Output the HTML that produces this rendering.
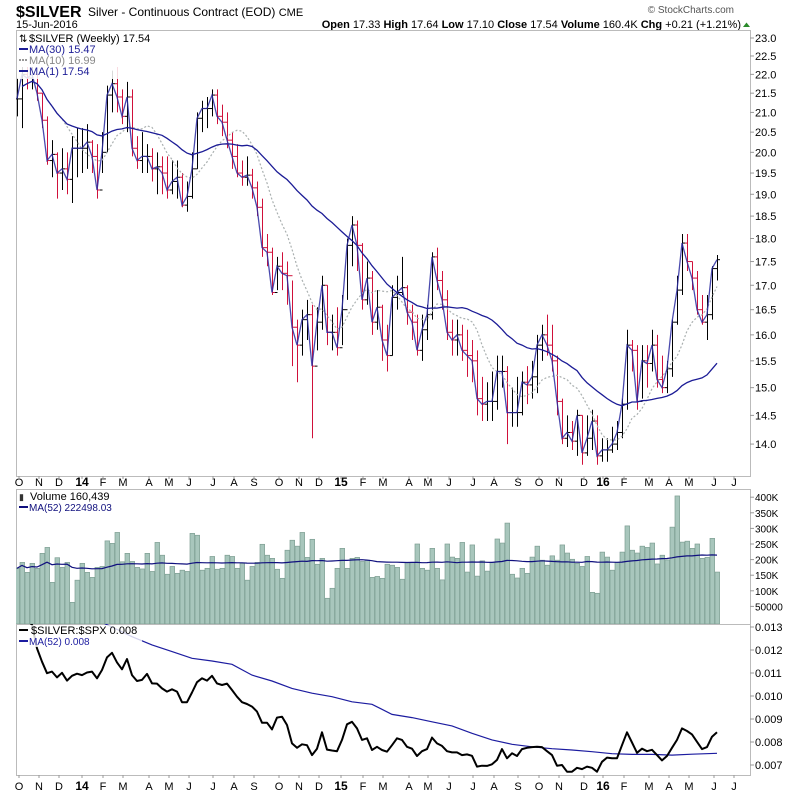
<!DOCTYPE html>
<html><head><meta charset="utf-8"><style>
html,body{margin:0;padding:0;background:#fff;}
svg{display:block;font-family:"Liberation Sans",Arial,sans-serif;}
</style></head><body>
<svg id="chart" width="800" height="795" viewBox="0 0 800 795" xmlns="http://www.w3.org/2000/svg">
<rect x="0" y="0" width="800" height="795" fill="#fff"/>
<text x="16" y="17" font-size="16" font-weight="bold">$SILVER</text>
<text x="88" y="16" font-size="12">Silver - Continuous Contract (EOD) <tspan font-size="11">CME</tspan></text>
<text x="16" y="28" font-size="11">15-Jun-2016</text>
<text x="734" y="13" font-size="10" fill="#555" text-anchor="end">© StockCharts.com</text>
<text x="741" y="28" font-size="11" text-anchor="end"><tspan font-weight="bold">Open</tspan> 17.33 <tspan font-weight="bold">High</tspan> 17.64 <tspan font-weight="bold">Low</tspan> 17.10 <tspan font-weight="bold">Close</tspan> 17.54 <tspan font-weight="bold">Volume</tspan> 160.4K <tspan font-weight="bold">Chg</tspan> +0.21 (+1.21%)</text>
<path d="M743 27 L746.5 22.5 L750 27 Z" fill="#2a8a2a"/>
<g id="price-panel"></g>
<g id="volume-panel"></g>
<g id="ratio-panel"></g>
</svg>
<script>
const closes=[21.35,22.0,21.9,22.0,21.5,20.8,19.8,19.95,19.5,19.6,19.35,20.1,20.1,20.1,20.25,19.9,19.1,20.0,21.45,21.75,21.4,20.9,21.4,20.1,19.8,19.9,19.9,19.6,19.65,19.5,19.1,19.3,19.4,18.75,18.95,19.6,20.85,21.1,21.1,21.45,20.9,20.75,20.3,19.9,19.5,19.4,19.45,19.15,18.7,17.8,17.7,16.85,17.4,17.25,17.2,16.15,15.8,16.3,16.4,15.4,16.25,17.0,16.05,16.05,15.75,16.5,17.85,18.3,17.85,16.7,17.15,16.25,16.55,15.9,15.6,16.75,16.85,16.95,16.45,16.25,15.7,16.1,16.4,17.6,17.1,16.7,16.05,15.9,16.0,15.7,15.6,15.5,14.8,14.7,14.75,14.75,15.3,15.3,14.55,14.55,14.55,15.1,15.05,15.2,15.8,16.0,15.8,15.5,14.75,14.1,14.2,14.05,14.5,13.85,14.1,14.4,13.8,13.9,13.9,14.0,14.2,14.7,15.8,15.7,14.75,15.5,15.45,15.8,15.15,15.0,15.35,16.25,16.9,17.9,17.5,17.15,16.5,16.25,16.4,17.35,17.54];
const highs=[21.9,22.2,22.2,22.2,22.0,21.5,20.9,20.3,20.0,20.1,20.0,20.4,20.6,20.6,20.7,20.3,20.2,20.5,21.7,22.1,22.2,21.6,21.8,21.6,20.4,20.5,20.2,20.1,20.0,19.9,19.9,19.8,19.8,19.5,19.3,20.0,21.0,21.3,21.4,21.6,21.6,21.2,21.0,20.5,20.2,19.8,19.9,19.6,19.3,18.9,18.1,17.8,17.6,17.7,17.5,17.1,16.3,16.5,16.7,16.6,16.55,17.2,17.0,16.4,16.55,16.8,18.0,18.5,18.4,17.9,17.5,17.3,16.9,16.6,16.2,17.0,17.2,17.6,17.0,16.6,16.4,16.4,16.6,17.7,17.8,17.3,16.9,16.3,16.3,16.2,16.1,15.9,15.7,15.2,15.1,15.3,15.6,15.6,15.4,15.0,15.2,15.3,15.4,15.5,16.0,16.2,16.4,16.2,15.6,14.8,14.5,14.4,14.6,14.5,14.5,14.6,14.5,14.1,14.1,14.3,14.4,14.8,16.1,15.9,15.8,15.8,15.8,16.1,16.0,15.6,15.5,16.3,17.2,18.1,18.1,17.5,17.3,16.8,16.8,17.4,17.64];
const lows=[20.9,20.6,21.6,21.6,21.3,20.6,19.7,19.4,18.9,19.1,19.0,18.8,19.4,19.5,19.6,19.5,18.9,19.5,20.0,21.0,21.0,20.7,20.5,19.9,19.6,19.5,19.5,19.3,19.0,19.0,18.9,19.0,18.9,18.7,18.6,18.9,19.6,20.5,20.6,20.9,20.7,20.4,20.1,19.6,19.4,19.2,19.2,18.9,18.5,17.6,17.4,16.8,16.9,16.9,16.6,15.4,15.1,15.6,15.9,14.1,15.7,16.1,15.8,15.7,15.6,15.8,16.7,17.4,17.3,16.5,16.6,16.0,16.1,15.5,15.3,15.6,16.5,16.8,16.2,15.9,15.6,15.5,15.9,16.3,16.9,16.5,15.9,15.6,15.6,15.5,15.2,15.1,14.5,14.4,14.4,14.4,14.6,15.0,14.0,14.3,14.3,14.5,14.7,14.8,14.9,15.5,15.6,15.3,14.5,14.0,13.95,13.9,13.8,13.65,13.8,13.9,13.65,13.7,13.7,13.85,13.9,14.1,14.6,15.3,14.6,14.8,15.0,15.3,15.0,14.9,14.9,15.2,16.2,16.8,17.3,16.9,16.4,16.2,15.9,16.3,17.1];
const volumesK=[172,191,159,188,172,220,239,127,206,175,191,63,134,188,159,143,175,178,260,252,287,193,220,194,175,170,220,162,255,214,153,178,156,166,162,284,278,166,172,210,169,172,214,210,172,188,134,178,191,249,214,204,169,140,230,262,243,287,207,265,185,204,76,108,172,236,172,204,207,194,198,143,146,140,185,182,175,137,191,191,250,172,166,236,172,135,250,208,204,255,160,247,147,196,163,191,266,253,317,153,141,172,156,208,243,198,182,212,198,247,221,201,188,178,210,95,92,224,208,166,191,224,308,230,221,243,239,253,186,214,199,304,404,256,259,236,250,204,207,268,160];
const ratio=[0.0140,0.0136,0.0133,0.0131,0.01207,0.01149,0.01099,0.01106,0.01081,0.01101,0.01067,0.01088,0.01097,0.01091,0.01102,0.01106,0.01077,0.01113,0.01168,0.01188,0.01146,0.01116,0.01161,0.01091,0.01065,0.01070,0.01096,0.01055,0.01054,0.01033,0.01019,0.01029,0.01019,0.00973,0.00973,0.01015,0.01060,0.01077,0.01067,0.01088,0.01055,0.01048,0.01054,0.01026,0.00997,0.00973,0.00965,0.00954,0.00932,0.00884,0.00884,0.00855,0.00906,0.00910,0.00874,0.00794,0.00775,0.00790,0.00786,0.00743,0.00771,0.00842,0.00767,0.00763,0.00760,0.00809,0.00877,0.00888,0.00859,0.00809,0.00816,0.00765,0.00779,0.00765,0.00758,0.00786,0.00816,0.00809,0.00779,0.00771,0.00739,0.00760,0.00769,0.00819,0.00794,0.00783,0.00760,0.00755,0.00755,0.00743,0.00746,0.00740,0.00693,0.00697,0.00696,0.00703,0.00722,0.00769,0.00729,0.00751,0.00739,0.00769,0.00775,0.00778,0.00779,0.00778,0.00760,0.00743,0.00697,0.00700,0.00671,0.00671,0.00688,0.00682,0.00693,0.00688,0.00671,0.00714,0.00732,0.00729,0.00729,0.00786,0.00842,0.00798,0.00753,0.00771,0.00760,0.00766,0.00743,0.00720,0.00739,0.00775,0.00809,0.00859,0.00848,0.00833,0.00801,0.00769,0.00778,0.00823,0.00842];
const ratioMaWeeks=[15,19,23,27,31,35,39,43,47,51,55,59,63,67,71,75,79,83,87,91,95,99,103,107,111,115,119,123,127,131,135,140];
const ratioMaValues=[0.0134,0.0130,0.01258,0.01222,0.01193,0.01164,0.01152,0.01138,0.01091,0.01065,0.01033,0.01012,0.00997,0.00975,0.00964,0.00920,0.00906,0.00888,0.00870,0.00838,0.00809,0.00790,0.00779,0.00771,0.00765,0.00758,0.00749,0.00746,0.00746,0.00743,0.00747,0.00751];
const priceTicks=[23.0,22.5,22.0,21.5,21.0,20.5,20.0,19.5,19.0,18.5,18.0,17.5,17.0,16.5,16.0,15.5,15.0,14.5,14.0];
const volTicks=[400,350,300,250,200,150,100,50];
const volTickLabels=["400K","350K","300K","250K","200K","150K","100K","50000"];
const ratioTicks=[0.013,0.012,0.011,0.010,0.009,0.008,0.007];
const monthLabels=["O","N","D","14","F","M","A","M","J","J","A","S","O","N","D","15","F","M","A","M","J","J","A","S","O","N","D","16","F","M","A","M","J","J"];
const monthWeeks=[0.4,4.4,8.4,13,17.2,21.2,26.4,30.4,34.4,39.2,43.4,47.4,52.4,56.4,60.4,64.8,69.2,73.2,78.4,82.2,86.4,91.2,95.4,100.2,104.4,108.4,113.4,117.2,121.4,126.4,130.4,134.4,139.4,143.4];

const NS="http://www.w3.org/2000/svg";
const L=16,R=750;
const P={top:30,bot:476}, V={top:489,bot:624}, Q={top:624,bot:775};
const xW=i=>17+5*i;
const yP=p=>38+818*Math.log(23/p);
const yV=v=>622-v/50*15.6;
const yQ=v=>627+(0.013-v)*23000;
function el(tag,attrs,parent){const e=document.createElementNS(NS,tag);for(const k in attrs)e.setAttribute(k,attrs[k]);parent.appendChild(e);return e;}
function txt(parent,x,y,s,size,fill,anchor,weight){const t=el('text',{x:x,y:y,'font-size':size,fill:fill||'#000'},parent);if(anchor)t.setAttribute('text-anchor',anchor);if(weight)t.setAttribute('font-weight',weight);t.textContent=s;return t;}
function sma(arr,n){return arr.map((_,i)=>{const s=Math.max(0,i-n+1);let t=0;for(let k=s;k<=i;k++)t+=arr[k];return t/(i-s+1);});}

const pg=document.getElementById('price-panel');
const vg=document.getElementById('volume-panel');
const qg=document.getElementById('ratio-panel');
// clip paths
const defs=el('defs',{},document.getElementById('chart'));
[['cp',P],['cv',V],['cq',Q]].forEach(([id,r])=>{const c=el('clipPath',{id:id},defs);el('rect',{x:L,y:r.top,width:R-L,height:r.bot-r.top},c);});

function frame(g,r,name){
  const f=el('rect',{x:L+0.5,y:r.top+0.5,width:R-L,height:r.bot-r.top,fill:'none',stroke:'#bbb','stroke-width':1},g);
  
  
}
frame(pg,P,'price-panel-frame');frame(vg,V,'volume-panel-frame');frame(qg,Q,'ratio-panel-frame');

// x-axis labels (between price and volume and at bottom)
[482,786].forEach((yy,row)=>{
  monthLabels.forEach((m,k)=>{
    const x=xW(monthWeeks[k]);
    const bold=/\d/.test(m);
    const t=txt(document.getElementById('chart'),x,yy+4,m,bold?12:11,'#000','middle',bold?'bold':null);
    
    
    const tk=el('line',{x1:x,x2:x,y1:row?775:476,y2:row?778:479,stroke:'#999'},document.getElementById('chart'));
    
    
  });
});

// price axis
priceTicks.forEach(p=>{
  const y=yP(p);
  const tk=el('line',{x1:R,x2:R+4,y1:y,y2:y,stroke:'#999'},pg);
  
  
  const t=txt(pg,R+5,y+4,p.toFixed(1),11,'#000');
  
  
});
// bars
const barsG=el('g',{'clip-path':'url(#cp)'},pg);
closes.forEach((c,i)=>{
  const x=xW(i);
  const o=i>0?closes[i-1]:c;
  const col=(i>0&&c<closes[i-1])?'#d0103a':'#000';
  const g=el('g',{stroke:col,'stroke-width':1},barsG);
  
  
  el('line',{x1:x+0.5,x2:x+0.5,y1:yP(highs[i]),y2:yP(lows[i])},g);
  el('line',{x1:x-2,x2:x+0.5,y1:yP(o),y2:yP(o)},g);
  el('line',{x1:x+0.5,x2:x+3,y1:yP(c),y2:yP(c)},g);
});
function poly(g,vals,fx,fy,attrs,name,start){
  let d='';vals.forEach((v,i)=>{if(i<(start||0))return;d+=(d?'L':'M')+fx(i).toFixed(1)+' '+fy(v).toFixed(1);});
  const p=el('path',Object.assign({d:d,fill:'none'},attrs),g);
  
  
  return p;
}
poly(barsG,sma(closes,10),xW,yP,{stroke:'#aab0b0','stroke-width':1.2,'stroke-dasharray':'2,2'},'ma10-line',4);
poly(barsG,sma(closes,30),xW,yP,{stroke:'#1c1c96','stroke-width':1.3},'ma30-line',1);
poly(barsG,closes,xW,yP,{stroke:'#2a2aa0','stroke-width':1.3,opacity:0.85},'ma1-line');
// legend
const lg=el('g',{},pg);
el('rect',{x:17,y:31,width:150,height:48,fill:'#fff',opacity:0.85},lg);
txt(lg,19,42,'⇅',10,'#000');
txt(lg,29,42,'$SILVER (Weekly) 17.54',11,'#000');
el('line',{x1:19,x2:28,y1:49,y2:49,stroke:'#1c1c96','stroke-width':2},lg);
txt(lg,29,53,'MA(30) 15.47',11,'#1c1c96');
el('line',{x1:19,x2:28,y1:60,y2:60,stroke:'#999','stroke-width':2,'stroke-dasharray':'2,1'},lg);
txt(lg,29,64,'MA(10) 16.99',11,'#888');
el('line',{x1:19,x2:28,y1:71,y2:71,stroke:'#1c1c96','stroke-width':2},lg);
txt(lg,29,75,'MA(1) 17.54',11,'#1c1c96');

// volume
volTicks.forEach((v,k)=>{
  const y=yV(v);
  el('line',{x1:R,x2:R+4,y1:y,y2:y,stroke:'#999'},vg);
  const t=txt(vg,R+5,y+4,volTickLabels[k],10,'#000');
  
  
});
const vb=el('g',{'clip-path':'url(#cv)'},vg);
volumesK.forEach((v,i)=>{
  const x=xW(i);
  const r=el('rect',{x:x-2,y:yV(v),width:4.6,height:622-yV(v)+2,fill:'#a8c6bc',stroke:'#7d9e92','stroke-width':0.7},vb);
  
  
});
poly(vb,sma(volumesK,52),xW,yV,{stroke:'#10107e','stroke-width':1.2},'volume-ma52-line');
const vl=el('g',{},vg);
txt(vl,19,500,'▮',9,'#333');
txt(vl,30,500,'Volume 160,439',11,'#000');
el('line',{x1:19,x2:28,y1:507,y2:507,stroke:'#10107e','stroke-width':2},vl);
txt(vl,29,511,'MA(52) 222498.03',10,'#10107e');

// ratio
ratioTicks.forEach(v=>{
  const y=yQ(v);
  el('line',{x1:R,x2:R+4,y1:y,y2:y,stroke:'#999'},qg);
  const t=txt(qg,R+5,y+4,v.toFixed(3),11,'#000');
  
  
});
const qc=el('g',{'clip-path':'url(#cq)'},qg);
let dma='';ratioMaWeeks.forEach((w,k)=>{dma+=(k?'L':'M')+xW(w).toFixed(1)+' '+yQ(ratioMaValues[k]).toFixed(1);});
const maPath=el('path',{d:dma,fill:'none',stroke:'#1c1ca0','stroke-width':1.2},qc);


poly(qc,ratio,xW,yQ,{stroke:'#000','stroke-width':2,'stroke-linejoin':'round'},'ratio-line');
const ql=el('g',{},qg);
el('rect',{x:17,y:625,width:125,height:22,fill:'#fff',opacity:0.8},ql);
el('line',{x1:19,x2:28,y1:630,y2:630,stroke:'#000','stroke-width':2},ql);
txt(ql,31,634,'$SILVER:$SPX 0.008',11,'#000');
el('line',{x1:19,x2:28,y1:641,y2:641,stroke:'#1c1ca0','stroke-width':2},ql);
txt(ql,29,645,'MA(52) 0.008',10,'#1c1ca0');
</script>
</body></html>
